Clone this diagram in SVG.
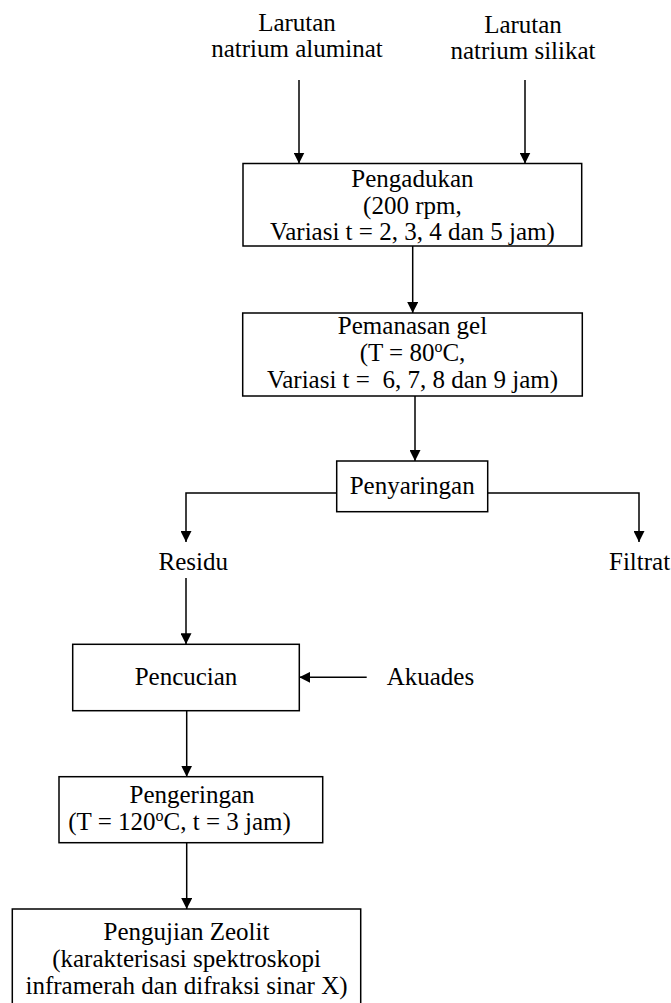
<svg xmlns="http://www.w3.org/2000/svg" width="671" height="1003" viewBox="0 0 671 1003">
<style>
text{font-family:"Liberation Serif","Times New Roman",serif;font-size:25px;fill:#000;text-anchor:middle;white-space:pre}
.box{fill:#fff;stroke:#000;stroke-width:1.5}
.ln{fill:none;stroke:#000;stroke-width:1.5}
</style>
<defs>
<marker id="ah" viewBox="0 0 11 11" refX="11" refY="5.5" markerWidth="11" markerHeight="11" markerUnits="userSpaceOnUse" orient="auto">
<path d="M0,0 L11,5.5 L0,11 z" fill="#000"/>
</marker>
</defs>
<rect width="671" height="1003" fill="#fff"/>
<g id="connectors">
<line class="ln" x1="299" y1="80" x2="299" y2="163.5" marker-end="url(#ah)"/>
<line class="ln" x1="525" y1="80" x2="525" y2="163.5" marker-end="url(#ah)"/>
<line class="ln" x1="412.7" y1="246" x2="412.7" y2="313" marker-end="url(#ah)"/>
<line class="ln" x1="415" y1="396" x2="415" y2="461" marker-end="url(#ah)"/>
<polyline class="ln" points="336.7,493 186,493 186,542" marker-end="url(#ah)"/>
<polyline class="ln" points="487.7,493 639,493 639,542" marker-end="url(#ah)"/>
<line class="ln" x1="186" y1="578" x2="186" y2="644.3" marker-end="url(#ah)"/>
<line class="ln" x1="366.7" y1="677.3" x2="299.3" y2="677.3" marker-end="url(#ah)"/>
<line class="ln" x1="186.7" y1="710.7" x2="186.7" y2="776.7" marker-end="url(#ah)"/>
<line class="ln" x1="186.7" y1="842.7" x2="186.7" y2="909" marker-end="url(#ah)"/>
</g>
<g id="in-aluminat">
<text x="297" y="31">Larutan</text>
<text x="297" y="57">natrium aluminat</text>
</g>
<g id="in-silikat">
<text x="523" y="33">Larutan</text>
<text x="523" y="59">natrium silikat</text>
</g>
<g id="pengadukan">
<rect class="box" x="243" y="163.5" width="338.7" height="82.5"/>
<text x="412.4" y="187">Pengadukan</text>
<text x="412.4" y="214">(200 rpm,</text>
<text x="412.4" y="240">Variasi t = 2, 3, 4 dan 5 jam)</text>
</g>
<g id="pemanasan">
<rect class="box" x="242.7" y="313" width="339.6" height="83"/>
<text x="412.5" y="334">Pemanasan gel</text>
<text x="412.5" y="361">(T = 80<tspan dy="-9" font-size="16">o</tspan><tspan dy="9">C,</tspan></text>
<text x="412.5" y="388">Variasi t =  6, 7, 8 dan 9 jam)</text>
</g>
<g id="penyaringan">
<rect class="box" x="336.7" y="461" width="151" height="50.7"/>
<text x="412.2" y="494">Penyaringan</text>
</g>
<g id="residu">
<text x="193.3" y="570">Residu</text>
</g>
<g id="filtrat">
<text x="609" y="570" style="text-anchor:start">Filtrat</text>
</g>
<g id="pencucian">
<rect class="box" x="72.7" y="644.3" width="226.6" height="66.4"/>
<text x="186" y="685">Pencucian</text>
</g>
<g id="akuades">
<text x="386.7" y="685" style="text-anchor:start">Akuades</text>
</g>
<g id="pengeringan">
<rect class="box" x="59" y="776.7" width="263.7" height="66"/>
<text x="192" y="803">Pengeringan</text>
<text x="68.3" y="830" style="text-anchor:start">(T = 120<tspan dy="-9" font-size="16">o</tspan><tspan dy="9">C, t = 3 jam)</tspan></text>
</g>
<g id="pengujian">
<rect class="box" x="12.3" y="909" width="348.4" height="100"/>
<text x="186.5" y="940">Pengujian Zeolit</text>
<text x="186.5" y="967">(karakterisasi spektroskopi</text>
<text x="186.5" y="994">inframerah dan difraksi sinar X)</text>
</g>
</svg>
